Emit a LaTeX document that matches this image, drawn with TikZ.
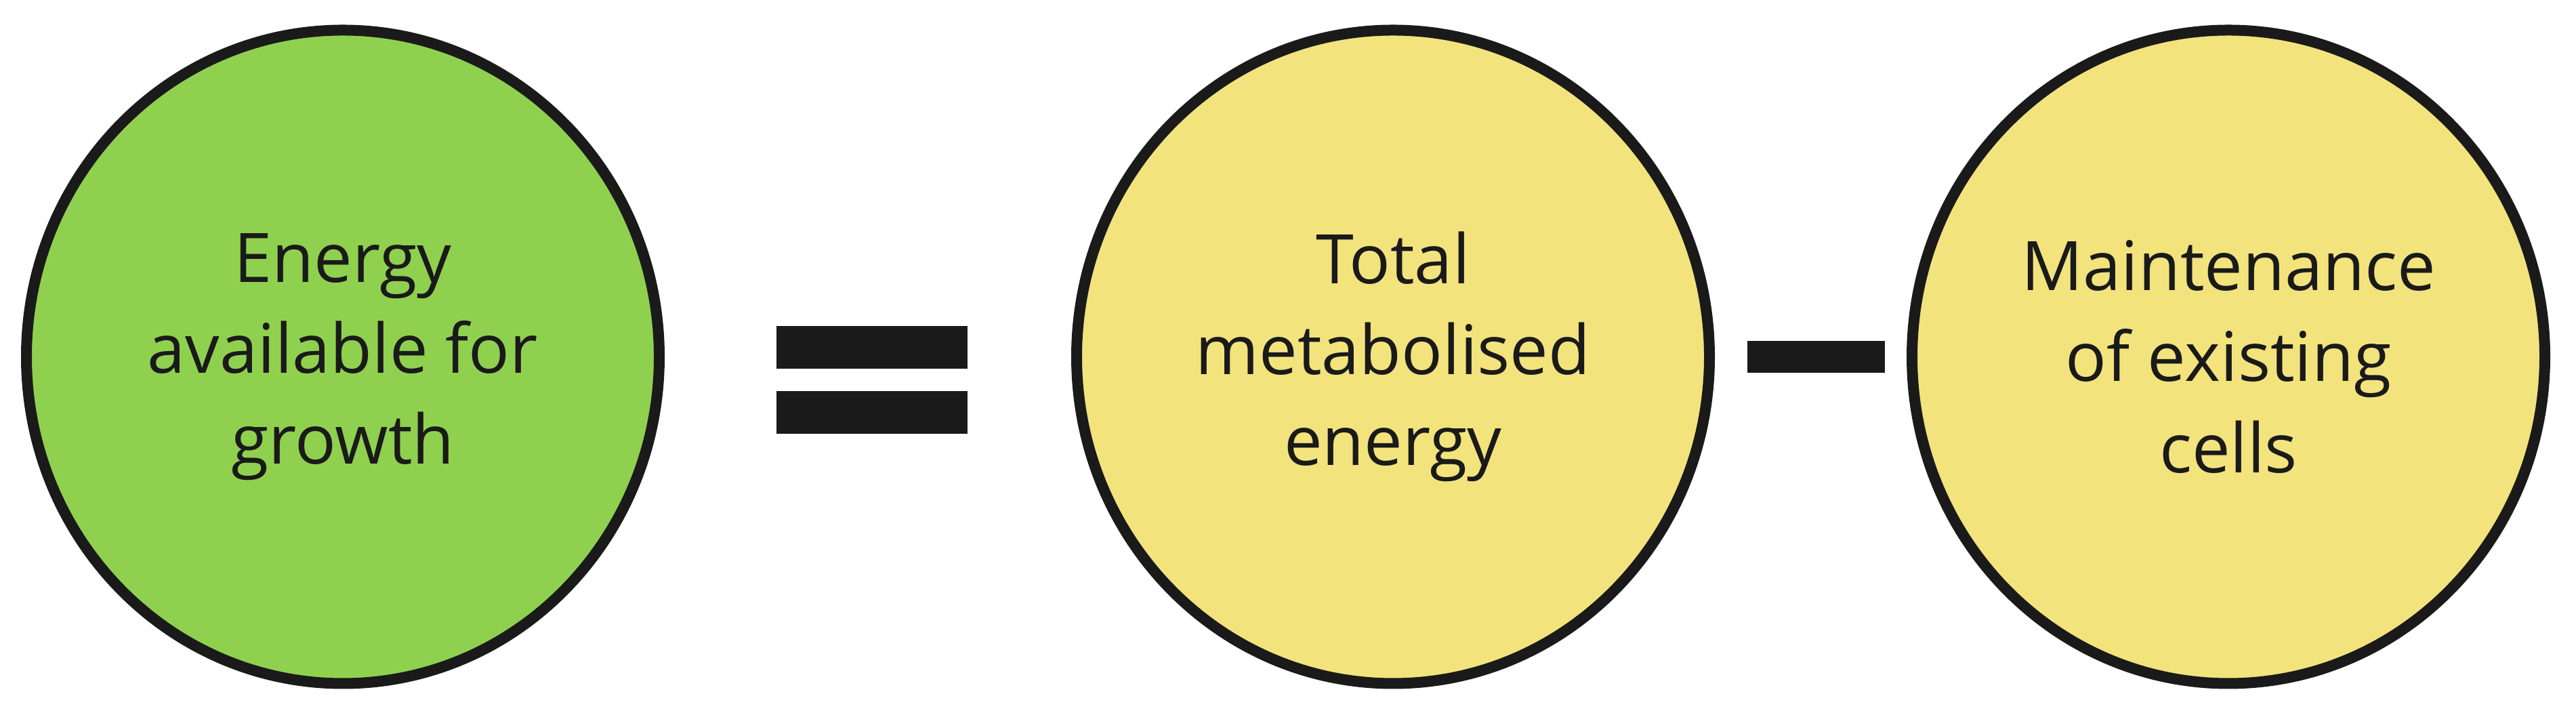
\documentclass[tikz,border=0pt]{standalone}
\usepackage{fontspec}
\setmainfont{Open Sans}
\usepackage{tikz}
\usetikzlibrary{shapes.geometric}

\definecolor{growthgreen}{HTML}{8FD14F}
\definecolor{termyellow}{HTML}{F2E37D}
\definecolor{inkdark}{HTML}{1A1A1A}

\tikzset{
  term/.style={ellipse, draw=inkdark, line width=0.16cm, inner sep=0pt,
    minimum width=9.34cm, minimum height=9.64cm, align=center,
    text=inkdark, font=\fontsize{28.7}{38.2}\selectfont},
  opbar/.style={rectangle, fill=inkdark, inner sep=0pt}
}

\begin{document}
\begin{tikzpicture}
  \useasboundingbox (0,0) rectangle (38.02,10.52);
  \node[term, fill=growthgreen] (growth) at (5.06,5.255) {Energy\\available for\\growth};
  \node[term, fill=termyellow] (total) at (20.56,5.255) {Total\\metabolised\\energy};
  \node[term, fill=termyellow] (maint) at (32.89,5.255) {Maintenance\\of existing\\cells};
  \node[opbar, minimum width=2.82cm, minimum height=0.63cm] (eqtop) at (12.87,5.395) {};
  \node[opbar, minimum width=2.82cm, minimum height=0.63cm] (eqbot) at (12.87,4.435) {};
  \node[opbar, minimum width=2.03cm, minimum height=0.47cm] (minus) at (26.805,5.255) {};
\end{tikzpicture}
\end{document}
